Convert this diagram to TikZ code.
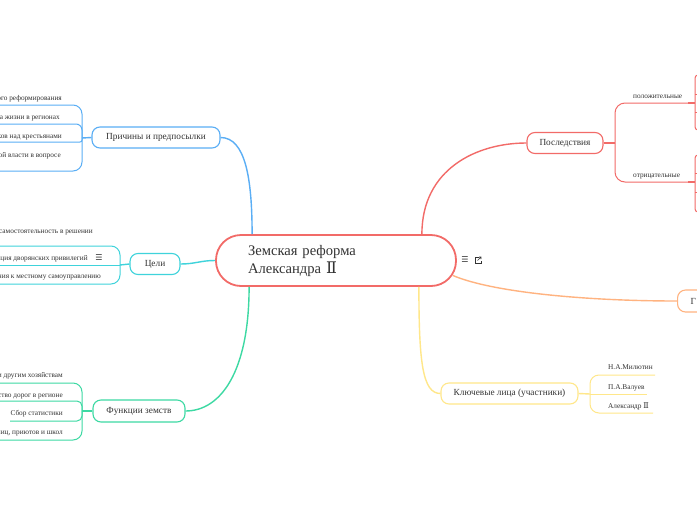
\documentclass[tikz,border=0pt]{standalone}
\usepackage{fontspec}
\setmainfont{Liberation Serif}
\newfontfamily\dvsans{DejaVu Sans}
\newfontfamily\dvserif{DejaVu Serif}
\usetikzlibrary{calc}
\definecolor{cblue}{HTML}{5AAEF5}
\definecolor{ccyan}{HTML}{3FD3DB}
\definecolor{cgreen}{HTML}{3DD9A3}
\definecolor{cred}{HTML}{F26B68}
\definecolor{corange}{HTML}{FFB380}
\definecolor{cyellow}{HTML}{FFE78A}
\definecolor{ctext}{HTML}{333333}
\begin{document}
\begin{tikzpicture}[x=1pt,y=-1pt,
  mainbox/.style={draw=cred, line width=1.8pt, rounded corners=25pt, fill=white,
    minimum height=51pt, inner xsep=32pt, inner ysep=0pt, text width=176pt,
    align=left, font=\fontsize{14.6}{18}\selectfont, text=ctext},
  topic/.style={draw, line width=1.1pt, rounded corners=8pt, fill=white,
    minimum height=21pt, inner xsep=4pt, inner ysep=0pt,
    font=\fontsize{9.3}{11}\selectfont, text=ctext},
  leaf/.style={font=\fontsize{7.3}{8}\selectfont, text=ctext, inner sep=0pt},
  branch/.style={line width=1.4pt},
  twig/.style={line width=1pt},
  iconst/.style={font=\dvsans\fontsize{8}{8}\selectfont, text=ctext, inner sep=0pt}]
\useasboundingbox (0,0) rectangle (697,520);
\fill[white] (0,0) rectangle (697,520);

% ---------- junction coordinates ----------
\coordinate (jb) at (82,138);
\coordinate (jc) at (120,265);
\coordinate (jg) at (82,411);
\coordinate (jr) at (615,143);
\coordinate (jy) at (590,394);
\coordinate (b1u) at (-2,105);
\coordinate (b2u) at (-2,124);
\coordinate (b3u) at (-2,142);
\coordinate (b4u) at (-2,171);
\coordinate (c1u) at (-2,246);
\coordinate (c2u) at (-2,265);
\coordinate (c3u) at (-2,284);
\coordinate (g1u) at (-2,383);
\coordinate (g2u) at (-2,401);
\coordinate (g3u) at (10,421);
\coordinate (g4u) at (-2,440);
\coordinate (rpu) at (688,103);
\coordinate (rnu) at (688,182);
\coordinate (rpj) at (695,103);
\coordinate (rnj) at (695,182);
\coordinate (y1u) at (655,375);
\coordinate (y2u) at (647,394);
\coordinate (y3u) at (653,413);

% ---------- leaf connectors (drawn first) ----------
\draw[twig,cblue,rounded corners=9pt] (jb) |- (b1u);
\draw[twig,cblue,rounded corners=6pt] (jb) |- (b2u);
\draw[twig,cblue,rounded corners=2pt] (jb) |- (b3u);
\draw[twig,cblue,rounded corners=9pt] (jb) |- (b4u);

\draw[twig,ccyan,rounded corners=9pt] (jc) |- (c1u);
\draw[twig,ccyan] (jc) -- (c2u);
\draw[twig,ccyan,rounded corners=9pt] (jc) |- (c3u);

\draw[twig,cgreen,rounded corners=9pt] (jg) |- (g1u);
\draw[twig,cgreen,rounded corners=5pt] (jg) |- (g2u);
\draw[twig,cgreen,rounded corners=5pt] (jg) |- (g3u);
\draw[twig,cgreen,rounded corners=9pt] (jg) |- (g4u);

\draw[twig,cred,rounded corners=10pt] (jr) |- (rpu);
\draw[twig,cred,rounded corners=10pt] (jr) |- (rnu);
\draw[branch,cred] (rpu) -- (rpj);
\draw[branch,cred] (rnu) -- (rnj);
\draw[twig,cred,rounded corners=3pt] (701,75) -| (rpj) |- (701,130);
\draw[twig,cred] (695,94) -- (701,94) (695,112) -- (701,112);
\draw[twig,cred,rounded corners=3pt] (701,155) -| (rnj) |- (701,212);
\draw[twig,cred] (695,173) -- (701,173) (695,192) -- (701,192);

\draw[twig,cyellow,rounded corners=9pt] (jy) |- (y1u);
\draw[twig,cyellow] (jy) -- (y2u);
\draw[twig,cyellow,rounded corners=9pt] (jy) |- (y3u);

% ---------- nodes ----------
\node[mainbox] (main) at (336,260.5) {Земская реформа\\Александра {\dvserif\fontsize{16}{18}\selectfont Ⅱ}};
\node[topic, draw=cblue, minimum width=128pt] (cause) at (156,137.5) {Причины и предпосылки};
\node[topic, draw=ccyan, minimum width=50pt] (goals) at (155,264) {Цели};
\node[topic, draw=cgreen, minimum width=92pt, minimum height=22pt] (func) at (139,411) {Функции земств};
\node[topic, draw=cred, minimum width=76pt] (cons) at (565,143) {Последствия};
\node[topic, draw=cyellow, minimum width=137pt] (keys) at (509.5,393.5) {Ключевые лица (участники)};
\node[topic, draw=corange, anchor=west, minimum height=22pt, inner xsep=13pt] (glav) at (677,301) {Г};

% ---------- main branches ----------
\draw[branch,cblue] ([xshift=37pt]main.north west) .. controls +(0,-55) and +(25,0) .. (cause.east);
\draw[branch,ccyan] (main.west) .. controls +(-15,0) and +(15,0) .. (goals.east);
\draw[branch,cgreen] ([xshift=34pt]main.south west) .. controls +(0,85) and +(35,0) .. (func.east);
\draw[branch,cred] ([xshift=-35pt]main.north east) .. controls +(0,-65) and +(-50,0) .. (cons.west);
\draw[branch,cyellow] ([xshift=-38pt]main.south east) .. controls +(0,75) and +(-18,0) .. (keys.west);
\draw[branch,corange] ($(main.east)+(-4,15)$) .. controls +(40,17) and +(-90,0) .. (glav.west);

\draw[branch,cblue] (cause.west) -- (jb);
\draw[branch,ccyan] (goals.west) -- (jc);
\draw[branch,cgreen] (func.west) -- (jg);
\draw[branch,cred] (cons.east) -- (jr);
\draw[branch,cyellow] (keys.east) -- (jy);

% ---------- leaf texts ----------
\node[leaf, anchor=base east] (b1) at (62,100) {ого реформирования};
\node[leaf, anchor=base east] (b2) at (60,119) {а жизни в регионах};
\node[leaf, anchor=base east] (b3) at (62,138) {ков над крестьянами};
\node[leaf, anchor=base east] (b4) at (61,157) {ой власти в вопросе};

\node[leaf, anchor=base east] (c1) at (93,233) {о самостоятельность в решении};
\node[leaf, anchor=base east] (c2) at (88,260) {ация дворянских привилегий};
\node[iconst] (c2i) at (99,258) {☰};
\node[leaf, anchor=base east] (c3) at (101,278) {сения к местному самоуправлению};

\node[leaf, anchor=base east] (g1) at (63,377) {и другим хозяйствам};
\node[leaf, anchor=base east] (g2) at (63,397) {ство дорог в регионе};
\node[leaf, anchor=base east] (g3) at (63,415) {Сбор статистики};
\node[leaf, anchor=base east] (g4) at (63,434) {ниц, приютов и школ};

\node[leaf, anchor=base west] (rp) at (633,98) {положительные};
\node[leaf, anchor=base west] (rn) at (633,177) {отрицательные};

\node[leaf, anchor=base west] (y1) at (608,369) {Н.А.Милютин};
\node[leaf, anchor=base west] (y2) at (608,389) {П.А.Валуев};
\node[leaf, anchor=base west] (y3) at (608,408) {Александр {\dvserif\fontsize{8}{8}\selectfont Ⅱ}};

% ---------- icons beside the central topic ----------
\node[iconst] (mi) at (465,260) {☰};
\draw[ctext, line width=0.6pt] (478.5,257) -| (475,263) -| (481,260.5);
\draw[ctext, line width=0.6pt] (477.5,260.5) -- (481,257) (479,257) -- (481,257) -- (481,259);
\end{tikzpicture}
\end{document}
